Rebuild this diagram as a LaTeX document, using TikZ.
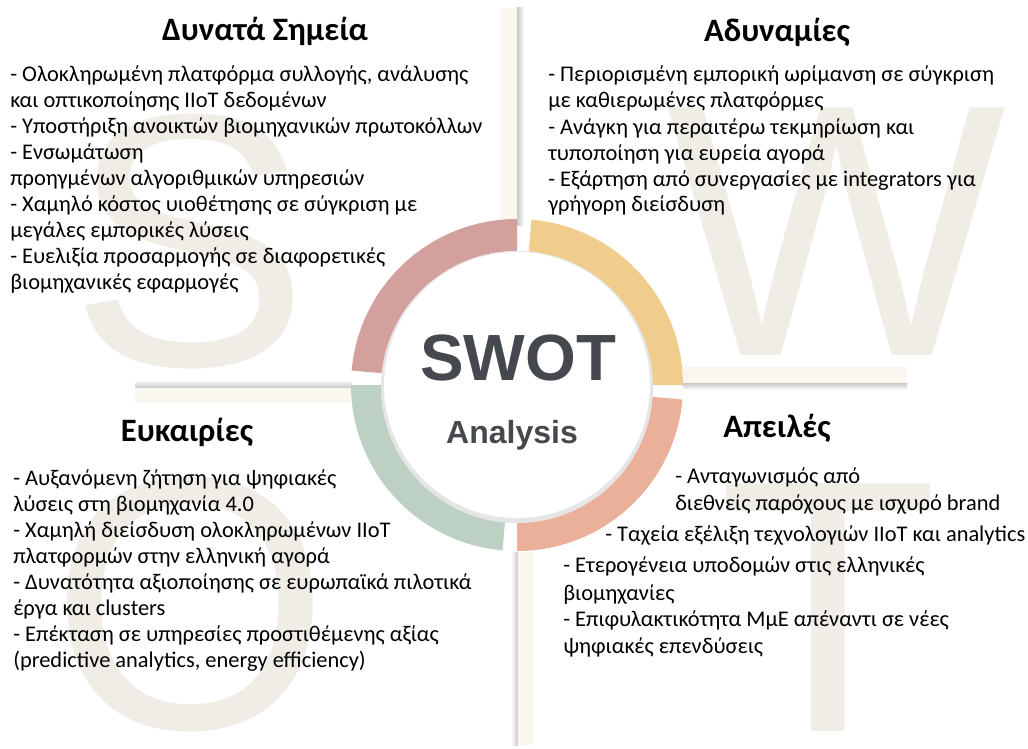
\documentclass[tikz,border=0pt]{standalone}
\usepackage{fontspec}
\setmainfont{Carlito}
\newfontfamily\arialfont{Liberation Sans}
\definecolor{bgletter}{RGB}{240,236,230}
\definecolor{barcol}{RGB}{250,246,240}
\definecolor{ringS}{RGB}{212,160,158}
\definecolor{ringW}{RGB}{240,205,140}
\definecolor{ringO}{RGB}{188,209,196}
\definecolor{ringT}{RGB}{235,176,154}
\definecolor{swotgray}{RGB}{69,72,76}
\tikzset{
  bigletter/.style={inner sep=0pt, anchor=base, text=bgletter, font=\arialfont\fontsize{270pt}{270pt}\selectfont},
  body/.style={inner sep=0pt, anchor=base west, font=\fontsize{16.8pt}{20pt}\selectfont},
  heading/.style={inner sep=0pt, anchor=base, font=\bfseries\fontsize{24.5pt}{28pt}\selectfont},
  barfill/.style={fill=barcol},
}
\begin{document}
\begin{tikzpicture}[x=0.75pt,y=-0.75pt]
\fill[white] (0,0) rectangle (1028,749);
\useasboundingbox (0,0) rectangle (1028,749);
% background letters
\node[bigletter] (bgS) at (190,365) {S};
\node[bigletter] (bgW) at (836,355) {W};
\node[bigletter] (bgO) at (191,728) {O};
\node[bigletter] (bgT) at (828,731) {T};
% bars with shadows
\shade[left color=black!22, right color=white] (517,8) rectangle (524,225);
\fill[barfill] (500,8) rectangle (517,225);
\shade[top color=white, bottom color=black!22] (135,380) rectangle (352,388);
\fill[barfill] (135,388) rectangle (352,403);
\shade[top color=black!22, bottom color=white] (683,383) rectangle (907,390);
\fill[barfill] (683,367) rectangle (907,383);
\shade[left color=white, right color=black!22] (511,552) rectangle (518,745);
\fill[barfill] (518,552) rectangle (533,745);
% ring
\begin{scope}[shift={(517,385)}, y=0.75pt]
  \fill[ringW] (0:166) arc[start angle=0,end angle=85,radius=166] -- (85:134) arc[start angle=85,end angle=0,radius=134] -- cycle;
  \fill[ringS] (90:166) arc[start angle=90,end angle=175,radius=166] -- (175:134) arc[start angle=175,end angle=90,radius=134] -- cycle;
  \fill[ringO] (180:166) arc[start angle=180,end angle=265,radius=166] -- (265:134) arc[start angle=265,end angle=180,radius=134] -- cycle;
  \fill[ringT] (270:166) arc[start angle=270,end angle=355,radius=166] -- (355:134) arc[start angle=355,end angle=270,radius=134] -- cycle;
\end{scope}
% core disk
\fill[black!10] (517,387) circle[radius=136];
\node[circle, fill=white, minimum size=266*0.75pt, inner sep=0pt] (core) at (517,385) {};
\node[inner sep=0pt, anchor=base, text=swotgray, font=\arialfont\bfseries\fontsize{49pt}{55pt}\selectfont] (swot) at (518,380) {SWOT};
\node[inner sep=0pt, anchor=base, text=swotgray, font=\arialfont\bfseries\fontsize{24pt}{28pt}\selectfont] (analysis) at (512,443) {Analysis};
% Strengths
\node[heading] (hS) at (265,41) {Δυνατά Σημεία};
\node[body] (s1) at (10,81.5) {- Ολοκληρωμένη πλατφόρμα συλλογής, ανάλυσης};
\node[body] (s2) at (10,107.5) {και οπτικοποίησης IIoT δεδομένων};
\node[body] (s3) at (10,133.5) {- Υποστήριξη ανοικτών βιομηχανικών πρωτοκόλλων};
\node[body] (s4) at (10,159.5) {- Ενσωμάτωση};
\node[body] (s5) at (10,185.5) {προηγμένων αλγοριθμικών υπηρεσιών};
\node[body] (s6) at (10,211.5) {- Χαμηλό κόστος υιοθέτησης σε σύγκριση με};
\node[body] (s7) at (10,237.5) {μεγάλες εμπορικές λύσεις};
\node[body] (s8) at (10,263.5) {- Ευελιξία προσαρμογής σε διαφορετικές};
\node[body] (s9) at (10,289.5) {βιομηχανικές εφαρμογές};
% Weaknesses
\node[heading] (hW) at (777,42) {Αδυναμίες};
\node[body] (w1) at (548,82) {- Περιορισμένη εμπορική ωρίμανση σε σύγκριση};
\node[body] (w2) at (548,108) {με καθιερωμένες πλατφόρμες};
\node[body] (w3) at (548,134) {- Ανάγκη για περαιτέρω τεκμηρίωση και};
\node[body] (w4) at (548,160) {τυποποίηση για ευρεία αγορά};
\node[body] (w5) at (548,186) {- Εξάρτηση από συνεργασίες με integrators για};
\node[body] (w6) at (548,211) {γρήγορη διείσδυση};
% Opportunities
\node[heading] (hO) at (187,441.5) {Ευκαιρίες};
\node[body] (o1) at (13,485) {- Αυξανόμενη ζήτηση για ψηφιακές};
\node[body] (o2) at (13,511) {λύσεις στη βιομηχανία 4.0};
\node[body] (o3) at (13,537) {- Χαμηλή διείσδυση ολοκληρωμένων IIoT};
\node[body] (o4) at (13,563) {πλατφορμών στην ελληνική αγορά};
\node[body] (o5) at (13,589) {- Δυνατότητα αξιοποίησης σε ευρωπαϊκά πιλοτικά};
\node[body] (o6) at (13,615) {έργα και clusters};
\node[body] (o7) at (13,641) {- Επέκταση σε υπηρεσίες προστιθέμενης αξίας};
\node[body] (o8) at (13,667) {(predictive analytics, energy efficiency)};
% Threats
\node[heading] (hT) at (777,437) {Απειλές};
\node[body] (t1) at (675,483.5) {- Ανταγωνισμός από};
\node[body] (t2) at (675,510) {διεθνείς παρόχους με ισχυρό brand};
\node[body] (t3) at (605,541.5) {- Ταχεία εξέλιξη τεχνολογιών IIoT και analytics};
\node[body] (t4) at (563,572.5) {- Ετερογένεια υποδομών στις ελληνικές};
\node[body] (t5) at (563,600) {βιομηχανίες};
\node[body] (t6) at (563,626.5) {- Επιφυλακτικότητα ΜμΕ απέναντι σε νέες};
\node[body] (t7) at (563,653) {ψηφιακές επενδύσεις};
\end{tikzpicture}
\end{document}
